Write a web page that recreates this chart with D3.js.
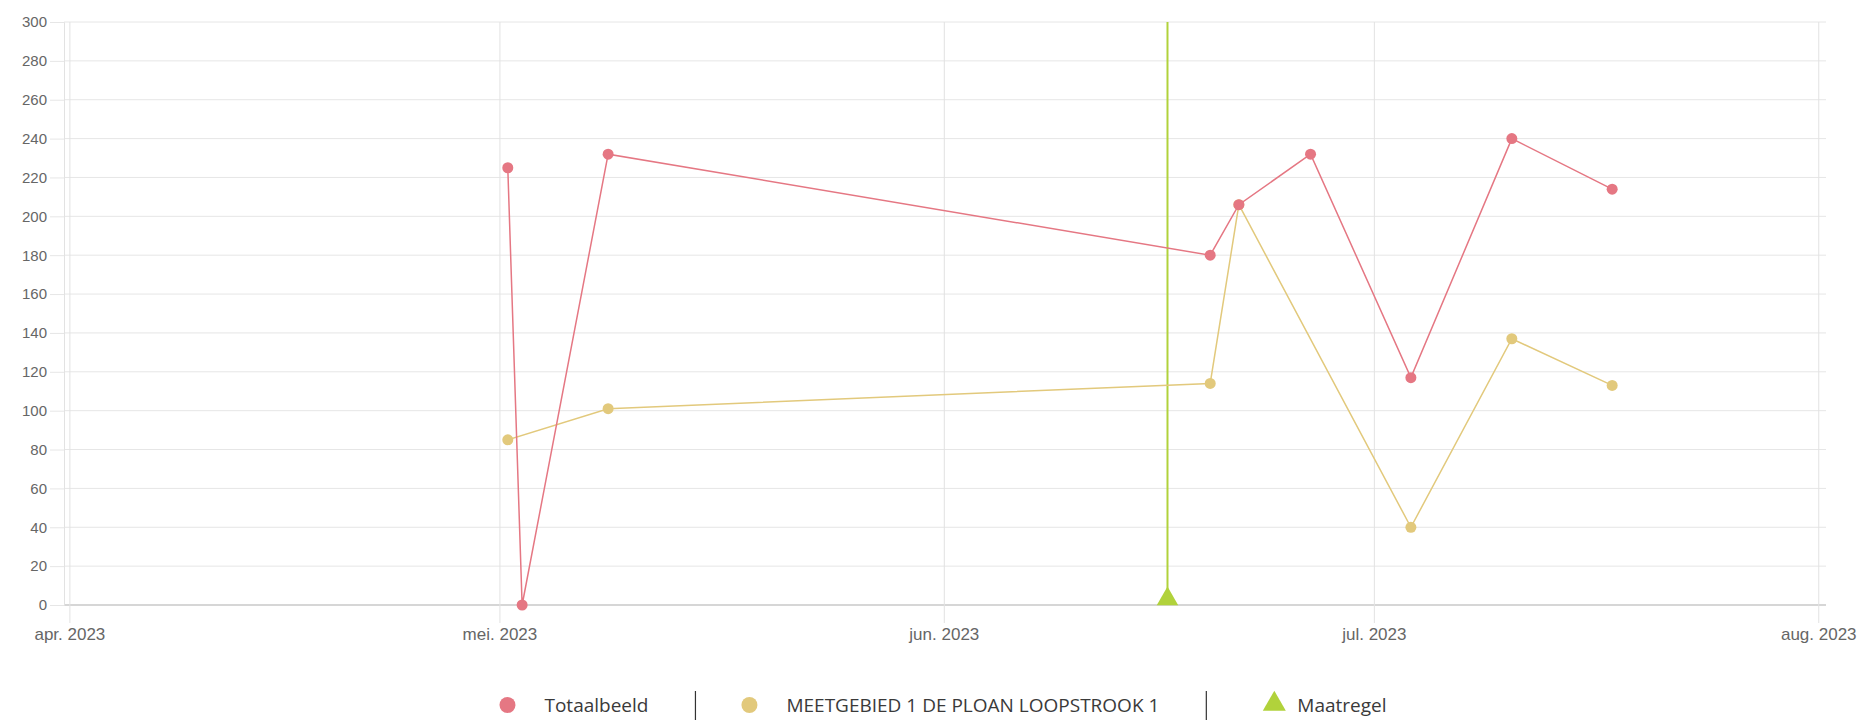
<!DOCTYPE html>
<html>
<head>
<meta charset="utf-8">
<script src="https://cdn.jsdelivr.net/npm/d3@7"></script>
<style>
  html, body { margin: 0; padding: 0; background: #fff; }
  svg { display: block; font-family: "Open Sans", "Noto Sans", sans-serif; }
  .tick text { fill: #666; }
</style>
</head>
<body>
<div id="chart"></div>
<script>
(function () {
  'use strict';

  // Totaalbeeld
  var totaalDates = ['2023-05-01T14:00', '2023-05-02T14:00', '2023-05-08T14:00', '2023-06-19T14:00',
    '2023-06-21T14:00', '2023-06-26T14:00', '2023-07-03T14:00', '2023-07-10T15:00', '2023-07-17T15:00'];
  var totaalValues = [225, 0, 232, 180, 206, 232, 117, 240, 214];

  // MEETGEBIED 1 DE PLOAN LOOPSTROOK 1
  var meetDates = ['2023-05-01T14:00', '2023-05-08T14:00', '2023-06-19T14:00', '2023-06-21T14:00',
    '2023-07-03T14:00', '2023-07-10T15:00', '2023-07-17T15:00'];
  var meetValues = [85, 101, 114, 206, 40, 137, 113];

  // Maatregel
  var maatregelDates = ['2023-06-16T14:30'];

  var monthTicks = ['2023-04-01T00:00', '2023-05-01T00:00', '2023-06-01T00:00', '2023-07-01T00:00', '2023-08-01T00:00'];
  var monthLabels = ['apr. 2023', 'mei. 2023', 'jun. 2023', 'jul. 2023', 'aug. 2023'];
  var yTicks = d3.range(0, 301, 20);

  var seriesNames = ['Totaalbeeld', 'MEETGEBIED 1 DE PLOAN LOOPSTROOK 1', 'Maatregel'];
  var colors = ['#e57783', '#e2c97c', '#b1d23b'];

  var W = 1862, H = 720;
  var plot = { left: 64, right: 1826, top: 22, bottom: 605 };

  function parse(list) {
    return list.map(function (s) { return new Date(s); });
  }

  var totaal = parse(totaalDates).map(function (d, i) { return { date: d, value: totaalValues[i] }; });
  var meet = parse(meetDates).map(function (d, i) { return { date: d, value: meetValues[i] }; });
  var maatregel = parse(maatregelDates);
  var ticks = parse(monthTicks);

  var x = d3.scaleTime()
    .domain([new Date('2023-03-31T15:00'), new Date('2023-08-01T13:00')])
    .range([plot.left, plot.right]);
  var y = d3.scaleLinear().domain([0, 300]).range([plot.bottom, plot.top]);

  var svg = d3.select('#chart').append('svg').attr('width', W).attr('height', H);

  // horizontal grid
  svg.append('g').attr('class', 'hgrid')
    .selectAll('line').data(yTicks).join('line')
    .attr('x1', plot.left).attr('x2', plot.right)
    .attr('y1', function (d) { return y(d); }).attr('y2', function (d) { return y(d); })
    .attr('stroke', function (d) { return d === 0 ? '#d6d6d6' : '#e6e6e6'; })
    .attr('stroke-width', function (d) { return d === 0 ? 2 : 1; });

  // y labels with small tick stubs
  var gy = svg.append('g')
    .attr('transform', 'translate(' + plot.left + ',0)')
    .call(d3.axisLeft(y).tickValues(yTicks).tickSize(14).tickPadding(3));
  gy.select('.domain').attr('stroke', '#e2e2e2');
  gy.selectAll('.tick line').attr('stroke', '#e6e6e6');
  gy.selectAll('.tick text').attr('font-size', '15px');

  // vertical month grid + x labels
  var gx = svg.append('g')
    .attr('transform', 'translate(0,' + plot.top + ')')
    .call(d3.axisBottom(x).tickValues(ticks)
      .tickFormat(function (d, i) { return monthLabels[i]; })
      .tickSize(plot.bottom - plot.top + 18).tickPadding(5));
  gx.select('.domain').remove();
  gx.selectAll('.tick line').attr('stroke', '#e2e2e2');
  gx.selectAll('.tick text').attr('font-size', '17px');

  // Maatregel line
  svg.selectAll('.maatregel-line').data(maatregel).join('line')
    .attr('class', 'maatregel-line')
    .attr('x1', function (d) { return x(d); }).attr('x2', function (d) { return x(d); })
    .attr('y1', plot.top).attr('y2', y(0))
    .attr('stroke', colors[2]).attr('stroke-width', 2);

  var line = d3.line()
    .x(function (d) { return x(d.date); })
    .y(function (d) { return y(d.value); });

  [meet, totaal].forEach(function (data, k) {
    var c = k === 0 ? colors[1] : colors[0];
    svg.append('path').datum(data)
      .attr('d', line).attr('fill', 'none')
      .attr('stroke', c).attr('stroke-width', 1.5);
    svg.append('g').selectAll('circle').data(data).join('circle')
      .attr('cx', function (d) { return x(d.date); })
      .attr('cy', function (d) { return y(d.value); })
      .attr('r', 5.5).attr('fill', c);
  });

  var tri = d3.symbol().type(d3.symbolTriangle).size(200);
  svg.selectAll('.maatregel-mark').data(maatregel).join('path')
    .attr('class', 'maatregel-mark')
    .attr('d', tri)
    .attr('transform', function (d) { return 'translate(' + x(d) + ',' + (y(0) - 6) + ')'; })
    .attr('fill', colors[2]);

  // legend
  var legend = svg.append('g').attr('class', 'legend');
  var ly = 705;
  var cursor = 0;
  seriesNames.forEach(function (name, i) {
    var isTri = i === 2;
    var textOff = isTri ? 23 : 37;
    var g = legend.append('g');
    if (!isTri) {
      g.append('circle').attr('cx', 0).attr('cy', 0).attr('r', 8).attr('fill', colors[i]);
    } else {
      g.append('path').attr('d', d3.symbol().type(d3.symbolTriangle).size(230))
        .attr('transform', 'translate(0,-1)').attr('fill', colors[i]);
    }
    var t = g.append('text').attr('x', textOff).attr('y', 0).attr('dy', '0.35em')
      .attr('font-size', '19px').attr('fill', '#3a3a3a').text(name);
    var w = textOff + t.node().getComputedTextLength();
    g.attr('transform', 'translate(' + cursor + ',' + ly + ')');
    if (i < seriesNames.length - 1) {
      var sx = cursor + w + 47;
      legend.append('line')
        .attr('x1', sx).attr('x2', sx)
        .attr('y1', ly - 14).attr('y2', ly + 16)
        .attr('stroke', '#333').attr('stroke-width', 1.2);
      cursor = sx + (i + 1 === 2 ? 68 : 54);
    } else {
      cursor += w;
    }
  });
  var legendStart = 943 - (cursor + 8) / 2 + 8;
  legend.attr('transform', 'translate(' + legendStart + ',0)');
})();
</script>
</body>
</html>
